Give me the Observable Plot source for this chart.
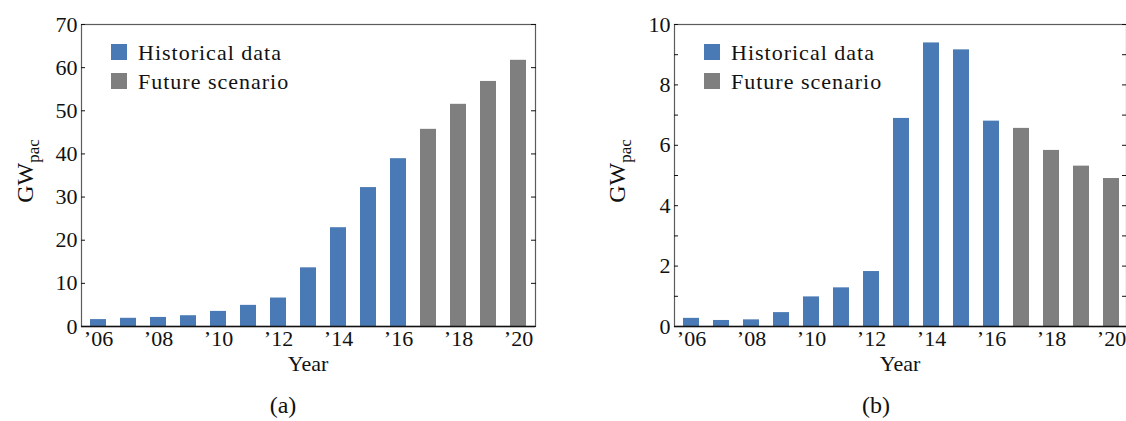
<!DOCTYPE html>
<html>
<head>
<meta charset="utf-8">
<script src="https://cdn.jsdelivr.net/npm/d3@7"></script>
<script src="https://cdn.jsdelivr.net/npm/@observablehq/plot@0.6"></script>
<style>
  body { margin: 0; background: #fff; }
  #wrap { position: relative; width: 1126px; height: 421px; overflow: hidden; background: #fff; }
  #wrap svg { position: absolute; top: 0; }
  #wrap svg text { font-family: "Liberation Serif", "Times New Roman", serif !important; font-variant: normal !important; }
</style>
</head>
<body>
<div id="wrap"></div>
<script>
// ---- data ----
const years = [2006, 2007, 2008, 2009, 2010, 2011, 2012, 2013, 2014, 2015, 2016, 2017, 2018, 2019, 2020];
const labelYears = [2006, 2008, 2010, 2012, 2014, 2016, 2018, 2020];
const tickLabels = ["’06", "’08", "’10", "’12", "’14", "’16", "’18", "’20"];
const seriesNames = ["Historical data", "Future scenario"];
const seriesColors = ["#4a7ab5", "#7f7f7f"];
const seriesOfYear = [0, 0, 0, 0, 0, 0, 0, 0, 0, 0, 0, 1, 1, 1, 1];
// (a) cumulative
const valuesA = [1.6, 1.9, 2.1, 2.5, 3.5, 4.9, 6.6, 13.6, 22.9, 32.2, 38.9, 45.7, 51.5, 56.8, 61.7];
// (b) annual
const valuesB = [0.27, 0.2, 0.22, 0.46, 0.98, 1.28, 1.82, 6.89, 9.39, 9.16, 6.80, 6.56, 5.83, 5.31, 4.90];
const yTicksA = [0, 10, 20, 30, 40, 50, 60, 70];
const yLabelsA = [0, 10, 20, 30, 40, 50, 60, 70];
const yTicksB = [0, 1, 2, 3, 4, 5, 6, 7, 8, 9, 10];
const yLabelsB = [0, 2, 4, 6, 8, 10];
const yTitle = ["GW", "pac"];
const xTitle = "Year";
const captions = ["(a)", "(b)"];

const FONT = '"Liberation Serif", "Times New Roman", serif';

function makePanel(cfg) {
  const rows = years.map((yr, i) => ({year: yr, value: cfg.values[i], series: seriesNames[seriesOfYear[i]]}));
  const svg = Plot.plot({
    width: 563,
    height: 421,
    marginTop: 24,
    marginBottom: 95,
    marginLeft: cfg.marginLeft,
    marginRight: cfg.marginRight,
    style: {fontFamily: FONT, fontSize: "22px", color: "#111", background: "transparent", overflow: "visible"},
    x: {type: "band", domain: years, range: cfg.xRange, paddingInner: 0.48, paddingOuter: 0.24},
    y: {domain: [0, cfg.yMax]},
    color: {domain: seriesNames, range: seriesColors},
    marks: [
      Plot.barY(rows, {x: "year", y: "value", fill: "series"}),
      Plot.frame({stroke: "#5c5c5c", strokeWidth: 1.2}),
      Plot.ruleY([0], {stroke: "#111", strokeWidth: 1.3}),
      Plot.axisY(cfg.ticks, {anchor: "left", tickSize: 4, dx: 4, tickFormat: () => "", label: null, stroke: "#111"}),
      Plot.axisY(cfg.ticks, {anchor: "right", tickSize: 5, dx: -5, tickFormat: () => "", label: null, stroke: "#111"}),
      Plot.axisY(cfg.labels, {anchor: "left", tickSize: 0, tickPadding: 4, label: null, fontSize: 22}),
      Plot.axisX(labelYears, {anchor: "bottom", tickSize: 0, tickPadding: 4, label: null, fontSize: 22,
        tickFormat: d => tickLabels[labelYears.indexOf(d)]})
    ]
  });
  svg.style.left = cfg.left + "px";
  const s = d3.select(svg);
  // y title with subscript
  const yl = s.append("text")
    .attr("transform", `translate(${cfg.yLabelX},171) rotate(-90)`)
    .attr("text-anchor", "middle")
    .attr("fill", "#111")
    .style("font-size", "24px");
  yl.append("tspan").text(yTitle[0]);
  yl.append("tspan").attr("dy", 6).style("font-size", "17px").text(yTitle[1]);
  // x title
  s.append("text")
    .attr("x", cfg.xTitleX).attr("y", 371)
    .attr("text-anchor", "middle").attr("fill", "#111")
    .style("font-size", "22px")
    .text(xTitle);
  // caption
  s.append("text")
    .attr("x", cfg.capX).attr("y", 413)
    .attr("text-anchor", "middle").attr("fill", "#111")
    .style("font-size", "24px")
    .text(cfg.caption);
  // legend
  seriesNames.forEach((name, i) => {
    s.append("rect")
      .attr("x", cfg.legX).attr("y", 44 + 29 * i)
      .attr("width", 16).attr("height", 16)
      .attr("fill", seriesColors[i]);
    s.append("text")
      .attr("x", cfg.legX + 27).attr("y", 59.5 + 29 * i)
      .attr("text-anchor", "start")
      .attr("fill", "#111")
      .style("font-size", "22px").style("letter-spacing", "1px")
      .text(name);
  });
  return svg;
}

const wrap = document.getElementById("wrap");
wrap.appendChild(makePanel({
  values: valuesA, yMax: 70, ticks: yTicksA, labels: yLabelsA,
  left: 0, marginLeft: 81, marginRight: 28, xRange: [81, 535],
  yLabelX: 33, xTitleX: 308, capX: 283, legX: 111, caption: captions[0]
}));
wrap.appendChild(makePanel({
  values: valuesB, yMax: 10, ticks: yTicksB, labels: yLabelsB,
  left: 563, marginLeft: 111, marginRight: 0, xRange: [111, 565],
  yLabelX: 62, xTitleX: 337, capX: 313, legX: 141, caption: captions[1]
}));
</script>
</body>
</html>
